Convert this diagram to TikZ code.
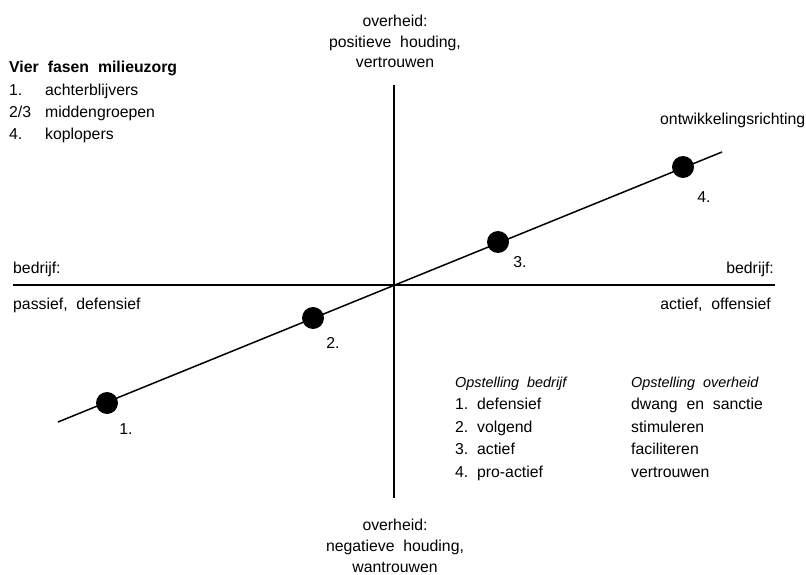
\documentclass[tikz,border=0pt]{standalone}
\usepackage{fontspec}
\setmainfont{Liberation Sans}
\begin{document}
\begin{tikzpicture}[x=1pt,y=-1pt,
  txt/.style={inner sep=0pt, font=\fontsize{15.8}{21}\selectfont},
  head/.style={inner sep=0pt, font=\fontsize{14.4}{21}\selectfont\itshape},
  stage/.style={circle, fill=black, minimum size=22pt, inner sep=0pt},
  axis/.style={line width=1.5pt}]
\useasboundingbox (0,0) rectangle (806,575);
% axes
\coordinate (vtop) at (394,85);
\coordinate (vbot) at (394,498);
\coordinate (hl) at (13,285);
\coordinate (hr) at (775,285);
\draw[axis] (vtop) -- (vbot);
\draw[axis] (hl) -- (hr);
% development direction
\coordinate (d0) at (58,422);
\coordinate (d1) at (722,152);
\draw[axis] (d0) -- (d1);
\node[stage] (s1) at (107,403) {};
\node[stage] (s2) at (313,318) {};
\node[stage] (s3) at (498,242) {};
\node[stage] (s4) at (683,167) {};
\node[txt, anchor=base] (l1) at (126,434) {1.};
\node[txt, anchor=base] (l2) at (333,348) {2.};
\node[txt, anchor=base] (l3) at (520,267) {3.};
\node[txt, anchor=base] (l4) at (704,202) {4.};
\node[txt, anchor=base west] (dir) at (660,125) {ontwikkelingsrichting};
% axis labels
\node[txt, anchor=base] (top1) at (395,27) {overheid:};
\node[txt, anchor=base] (top2) at (395,48) {positieve\ \ houding,};
\node[txt, anchor=base] (top3) at (395,68) {vertrouwen};
\node[txt, anchor=base] (bot1) at (395,530) {overheid:};
\node[txt, anchor=base] (bot2) at (395,551) {negatieve\ \ houding,};
\node[txt, anchor=base] (bot3) at (395,572) {wantrouwen};
\node[txt, anchor=base west] (bl1) at (13,273) {bedrijf:};
\node[txt, anchor=base west] (bl2) at (13,309) {passief,\ \ defensief};
\node[txt, anchor=base east] (br1) at (774,273) {bedrijf:};
\node[txt, anchor=base east] (br2) at (771,309) {actief,\ \ offensief};
% legend
\node[txt, anchor=base west, font=\fontsize{15.8}{21}\selectfont\bfseries] (lg) at (9,73) {Vier\hspace{9pt}fasen\hspace{9pt}milieuzorg};
\node[txt, anchor=base west] (n1) at (9,96) {1.};
\node[txt, anchor=base west] (n2) at (9,118) {2/3};
\node[txt, anchor=base west] (n3) at (9,140) {4.};
\node[txt, anchor=base west] (t1) at (45,96) {achterblijvers};
\node[txt, anchor=base west] (t2) at (45,118) {middengroepen};
\node[txt, anchor=base west] (t3) at (45,140) {koplopers};
% table
\node[head, anchor=base west] (h1) at (455,387) {Opstelling\ \ bedrijf};
\node[txt, anchor=base west] (a1) at (455,409) {1.\ \ defensief};
\node[txt, anchor=base west] (a2) at (455,432) {2.\ \ volgend};
\node[txt, anchor=base west] (a3) at (455,454) {3.\ \ actief};
\node[txt, anchor=base west] (a4) at (455,477) {4.\ \ pro-actief};
\node[head, anchor=base west] (h2) at (631,387) {Opstelling\ \ overheid};
\node[txt, anchor=base west] (b1) at (631,409) {dwang\ \ en\ \ sanctie};
\node[txt, anchor=base west] (b2) at (631,432) {stimuleren};
\node[txt, anchor=base west] (b3) at (631,454) {faciliteren};
\node[txt, anchor=base west] (b4) at (631,477) {vertrouwen};
\end{tikzpicture}
\end{document}
